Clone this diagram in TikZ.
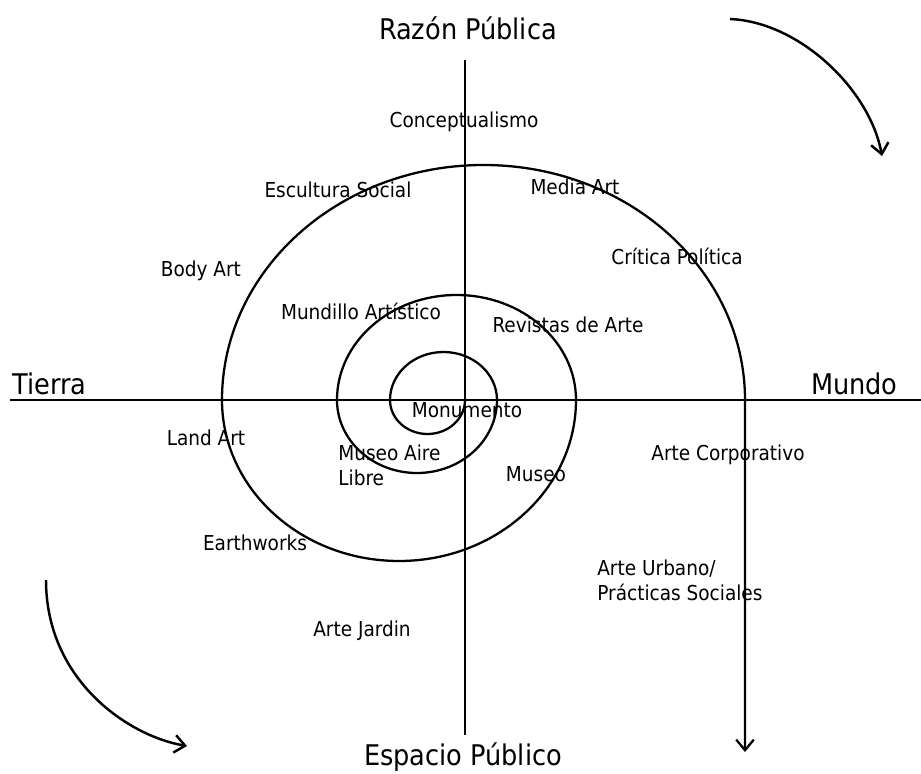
\documentclass[tikz,border=0pt]{standalone}
\usepackage{fontspec}
\setmainfont{DejaVu Sans Condensed}
\usepackage{tikz}
\usetikzlibrary{arrows.meta,positioning,calc}
\tikzset{
    axis/.style={line width=1.7pt, black},
    spiral/.style={line width=1.3pt, black},
    turn/.style={line width=1.4pt, black, -{Straight Barb[length=6pt,width=10pt,line width=1.4pt]}},
    lbl/.style={font=\fontsize{11.7}{14.2}\selectfont, inner sep=0pt},
    biglbl/.style={font=\fontsize{16.2}{19}\selectfont, inner sep=0pt},
}

\begin{document}
\begin{tikzpicture}[x=0.02cm, y=-0.02cm]
    \useasboundingbox (0,0) rectangle (921,774);

    % Axes
    \coordinate (west) at (10,400);
    \coordinate (east) at (921,400);
    \coordinate (north) at (465,60);
    \coordinate (south) at (465,735);
    \draw[axis] (west) -- (east);
    \draw[axis] (north) -- (south);

    % Spiral, semicircles alternating below and above the axis
    \coordinate (core) at (465,400);
    \coordinate (exit) at (745,752);
    \draw[spiral, -{Straight Barb[length=6pt,width=10pt,line width=1.3pt]}] (core)
        arc[start angle=0, end angle=180, x radius=37.5, y radius=34]
        arc[start angle=180, end angle=360, x radius=53.5, y radius=48]
        arc[start angle=0, end angle=180, x radius=80, y radius=73]
        arc[start angle=180, end angle=360, x radius=119.5, y radius=105]
        arc[start angle=0, end angle=180, x radius=177, y radius=161]
        arc[start angle=180, end angle=360, x radius=261.5, y radius=235]
        -- (exit);

    % Turning arrows
    \coordinate (nestart) at (730,19);
    \coordinate (neend) at (882,156);
    \draw[turn] (nestart) .. controls (800,22) and (870,90) .. (neend);
    \coordinate (swstart) at (46,580);
    \coordinate (swend) at (187,746);
    \draw[turn] (swstart) .. controls (46,680) and (128,736) .. (swend);

    % Poles
    \node[biglbl] (razon) at (468,28) {Razón Pública};
    \node[biglbl] (espacio) at (463,757) {Espacio Público};
    \node[biglbl, anchor=base west] (tierra) at (12,394) {Tierra};
    \node[biglbl, anchor=base east] (mundo) at (898,394) {Mundo};

    % Practices
    \node[lbl] (concept) at (464,122) {Conceptualismo};
    \node[lbl] (escultura) at (338,190) {Escultura Social};
    \node[lbl] (media) at (575,187) {Media Art};
    \node[lbl] (critica) at (677,256) {Crítica Política};
    \node[lbl] (body) at (201,271) {Body Art};
    \node[lbl] (mundillo) at (361,311) {Mundillo Artístico};
    \node[lbl] (revistas) at (568,325) {Revistas de Arte};
    \node[lbl] (monumento) at (467,410) {Monumento};
    \node[lbl] (land) at (206,438) {Land Art};
    \node[lbl, align=left, anchor=north west] (aire) at (338,445) {Museo Aire\\Libre};
    \node[lbl] (museo) at (536,474) {Museo};
    \node[lbl] (corporativo) at (728,455) {Arte Corporativo};
    \node[lbl] (earth) at (255,543) {Earthworks};
    \node[lbl, align=left, anchor=north west] (urbano) at (597,560) {Arte Urbano/\\Prácticas Sociales};
    \node[lbl] (jardin) at (362,631) {Arte Jardin};
\end{tikzpicture}
\end{document}
